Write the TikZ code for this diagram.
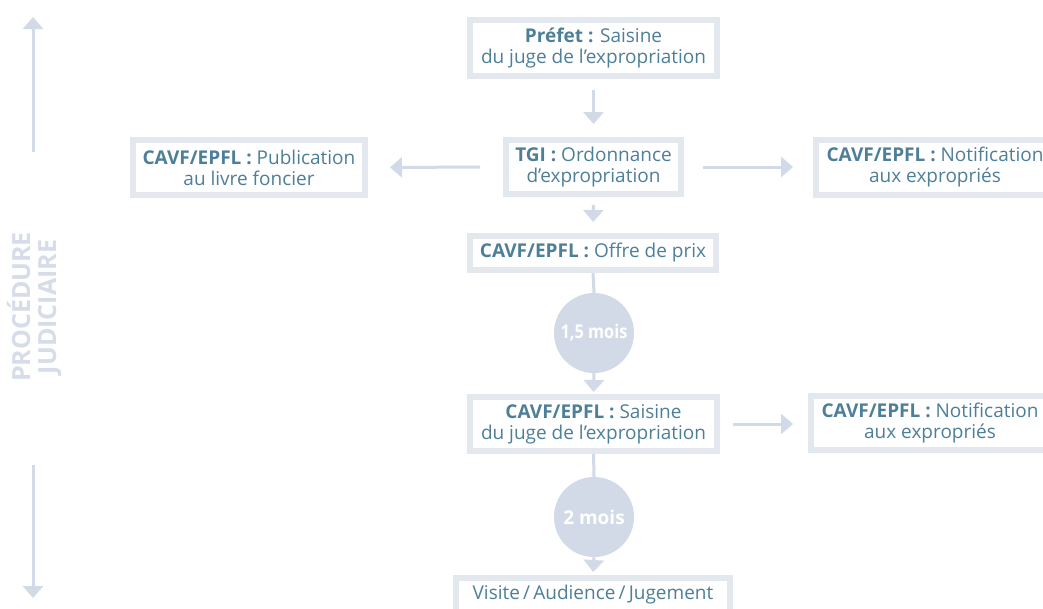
\documentclass[tikz,border=0pt]{standalone}
\usepackage{fontspec}
\setmainfont{Open Sans}
\usetikzlibrary{arrows.meta}
\definecolor{txt}{HTML}{4E7F99}
\definecolor{bord}{HTML}{E3E8EF}
\definecolor{arr}{HTML}{D2D9E7}
\definecolor{side}{HTML}{D6DDE9}
\tikzset{
  x=1pt,y=-1pt,
  box/.style={draw=bord,line width=6pt,fill=white,text=txt,align=center,inner sep=0pt,font=\fontsize{19}{21}\selectfont},
  circ/.style={circle,fill=arr,minimum size=80pt,inner sep=0pt,text=white,font=\fontsize{19}{22}\selectfont\bfseries},
  conn/.style={draw=arr,line width=3pt},
  arrconn/.style={conn,-{Triangle[width=20pt,length=12pt]}},
  sidetxt/.style={text=side,font=\fontsize{25}{26}\selectfont\bfseries,align=center,rotate=90}
}
\begin{document}
\begin{tikzpicture}
\clip (0,0) rectangle (1043,608);
\fill[white] (0,0) rectangle (1043,608);
\node[box,minimum width=247pt,minimum height=56pt] (pref) at (593.5,48) {\textbf{Préfet :} Saisine\\du juge de l’expropriation};
\node[box,minimum width=175pt,minimum height=54pt] (tgi) at (593.5,167) {\textbf{TGI :} Ordonnance\\d’expropriation};
\node[box,minimum width=232pt,minimum height=55pt] (pub) at (249,167.5) {\textbf{CAVF/EPFL :} Publication\\au livre foncier};
\node[box,minimum width=238pt,minimum height=55pt] (not1) at (935,167.5) {\textbf{CAVF/EPFL :} Notification\\aux expropriés};
\node[box,minimum width=246pt,minimum height=34pt] (offre) at (593,253) {\textbf{CAVF/EPFL :} Offre de prix};
\node[circ] (c1) at (594,333) {\scalebox{0.86}[1]{1,5 mois}};
\node[box,minimum width=247pt,minimum height=54pt] (sais) at (593.5,424) {\textbf{CAVF/EPFL :} Saisine\\du juge de l’expropriation};
\node[box,minimum width=238pt,minimum height=54pt] (not2) at (930,423) {\textbf{CAVF/EPFL :} Notification\\aux expropriés};
\node[circ] (c2) at (594,517) {2 mois};
\node[box,minimum width=274pt,minimum height=34pt] (fin) at (593,595) {Visite\,/\,Audience\,/\,Jugement};

\draw[arrconn,shorten <=11pt,shorten >=13pt] (pref.south) -- (tgi.north);
\draw[arrconn,shorten <=8pt,shorten >=11pt] (tgi.south) -- (offre.north);
\draw[arrconn,shorten <=23pt,shorten >=22pt] (tgi.west) -- (pub.east);
\draw[arrconn,shorten <=19pt,shorten >=20pt] (tgi.east) -- (tgi.east -| not1.west);
\draw[conn] (offre.south) -- (c1.north);
\draw[arrconn,shorten >=2pt] (c1.south) -- (sais.north);
\draw[arrconn,shorten <=13pt,shorten >=15pt] (sais.east) -- (sais.east -| not2.west);
\draw[conn] (sais.south) -- (c2.north);
\draw[arrconn,shorten >=3pt] (c2.south) -- (fin.north);

\coordinate (upA) at (33,152);
\coordinate (upB) at (33,17);
\coordinate (dnA) at (33,465);
\coordinate (dnB) at (33,598);
\draw[arrconn] (upA) -- (upB);
\draw[arrconn] (dnA) -- (dnB);
\node[sidetxt] (lab) at (34,307) {PROCÉDURE\\JUDICIAIRE};
\end{tikzpicture}
\end{document}
